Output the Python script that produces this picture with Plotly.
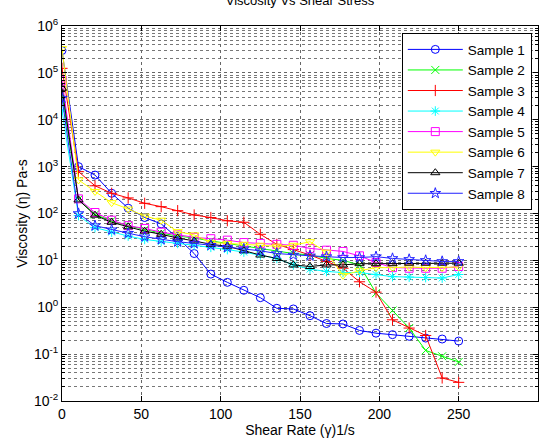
import plotly.graph_objects as go

shear_rate = [0, 10.4, 20.8, 31.3, 41.7, 52.1, 62.5, 72.9, 83.3, 93.8, 104.2, 114.6, 125,
              135.4, 145.8, 156.3, 166.7, 177.1, 187.5, 197.9, 208.3, 218.8, 229.2, 239.6, 250]

sample1 = [3.0e5, 1000, 660, 270, 130, 82, 60, 30, 14, 5.1, 3.4, 2.3, 1.6, 0.95, 0.92, 0.66,
           0.45, 0.44, 0.32, 0.28, 0.26, 0.24, 0.22, 0.21, 0.19]
sample2 = [3.5e4, 200, 95, 70, 55, 45, 38, 33, 30, 26, 23, 20, 18, 16, 14, 13, 11, 10, 8,
           2.0, 0.85, 0.36, 0.12, 0.09, 0.068]
sample3 = [1.25e5, 780, 390, 270, 215, 165, 140, 115, 93, 82, 70, 65, 36, 22, 17, 13, 9.5,
           6.8, 3.5, 2.1, 0.54, 0.36, 0.25, 0.031, 0.025]
sample4 = [1.6e4, 90, 50, 40, 33, 28, 25, 23, 21, 19, 17, 15, 13, 11, 8, 6.5, 5.8, 5.5, 5.5,
           5, 4.5, 4.4, 4.3, 4.2, 5]
sample5 = [7e4, 205, 105, 72, 55, 48, 40, 35, 31, 29, 27, 24, 23, 22, 21, 18, 16.5, 15.5,
           12.5, 9, 7, 6.8, 6.8, 6.8, 7.4]
sample6 = [3.3e5, 520, 295, 170, 125, 88, 72, 41, 35, 24, 23, 22, 21, 20, 21, 25, 15, 4.8,
           6, 7, 7, 7.2, 7, 7, 7.2]
sample7 = [4.7e4, 195, 92, 65, 52, 42, 36, 30, 26, 22, 20, 16, 13, 11, 8, 7.4, 8, 8, 8.5,
           8.5, 8.5, 8.7, 8.7, 8.7, 8.7]
sample8 = [2.9e4, 100, 55, 45, 38, 32, 28, 25, 23, 21, 19, 17.5, 16, 14, 13, 12.5, 12, 11.5,
           11.5, 12, 11, 10.5, 10, 9.5, 9.5]

series_names = ["Sample 1", "Sample 2", "Sample 3", "Sample 4",
                "Sample 5", "Sample 6", "Sample 7", "Sample 8"]
series_values = [sample1, sample2, sample3, sample4, sample5, sample6, sample7, sample8]
colors = ["#0000ff", "#00ff00", "#ff0000", "#00ffff", "#ff00ff", "#ffff00", "#000000", "#2020ff"]
symbols = ["circle-open", "x-thin-open", "cross-thin-open", "asterisk-open",
           "square-open", "triangle-down-open", "triangle-up-open", "star-open"]

y_tickvals = [1e-2, 1e-1, 1, 10, 1e2, 1e3, 1e4, 1e5, 1e6]
y_ticktext = ["10<sup>-2</sup>", "10<sup>-1</sup>", "10<sup>0</sup>", "10<sup>1</sup>",
              "10<sup>2</sup>", "10<sup>3</sup>", "10<sup>4</sup>", "10<sup>5</sup>",
              "10<sup>6</sup>"]
x_tickvals = [0, 50, 100, 150, 200, 250, 300]

fig = go.Figure()
for name, vals, c, s in zip(series_names, series_values, colors, symbols):
    fig.add_trace(go.Scatter(
        x=shear_rate, y=vals, name=name, mode="lines+markers",
        line=dict(color=c, width=1),
        marker=dict(symbol=s, size=8, color=c, line=dict(color=c, width=1)),
    ))

font_family = "Liberation Sans, Arial, sans-serif"
fig.update_layout(
    width=549, height=441,
    margin=dict(l=62, r=11, t=26, b=40, autoexpand=False),
    paper_bgcolor="white", plot_bgcolor="white",
    font=dict(family=font_family, size=13, color="black"),
    title=dict(text="Viscosity Vs Shear Stress", x=0.5465, xanchor="center",
               yref="container", y=1.0, yanchor="middle", automargin=False,
               font=dict(size=13, color="black")),
    showlegend=True,
    legend=dict(x=0.987, xanchor="right", y=0.981, yanchor="top",
                bgcolor="white", bordercolor="black", borderwidth=1,
                font=dict(size=13.5), itemwidth=55),
)
fig.update_xaxes(
    range=[0, 300], tickvals=x_tickvals, automargin=False,
    showline=True, linecolor="black", linewidth=1, mirror="ticks",
    ticks="inside", ticklen=5, tickcolor="black",
    showgrid=True, gridcolor="#666666", griddash="dot", gridwidth=1,
    zeroline=False, tickfont=dict(size=14),
    title=dict(text="Shear Rate (γ)1/s", standoff=4, font=dict(size=14)),
)
fig.update_yaxes(
    type="log", range=[-2, 6], tickvals=y_tickvals, ticktext=y_ticktext, automargin=False,
    showline=True, linecolor="black", linewidth=1, mirror="ticks",
    ticks="inside", ticklen=5, tickcolor="black",
    showgrid=True, gridcolor="#666666", griddash="dot", gridwidth=1,
    minor=dict(dtick="D1", showgrid=True, gridcolor="#777777", griddash="dot",
               gridwidth=1, ticks="inside", ticklen=3, tickcolor="black"),
    zeroline=False, tickfont=dict(size=14),
    title=dict(text="Viscosity (η) Pa-s", standoff=3, font=dict(size=14)),
)

fig.write_html("out.html")
